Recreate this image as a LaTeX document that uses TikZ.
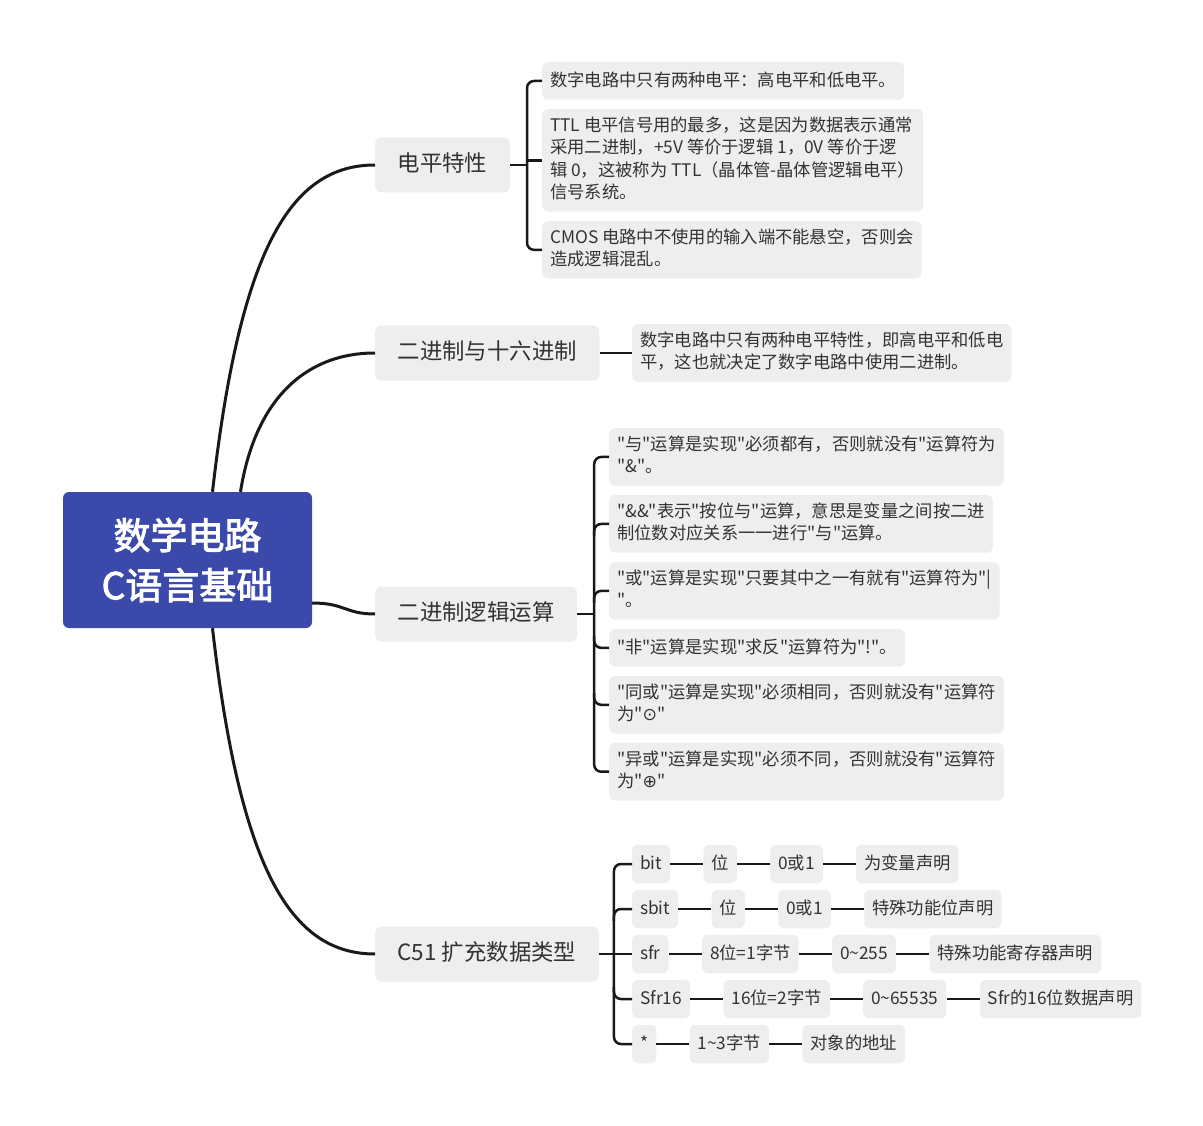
\documentclass[tikz,border=0pt]{standalone}
\usepackage{fontspec}
\setmainfont{Noto Sans CJK SC}[Ligatures=TeXOff]
\newfontfamily\rootfont{Noto Sans CJK SC}[FakeBold=2.5]
\newfontfamily\symfont{DejaVu Sans}
\newcommand\boxstrut{\rule[-0.24\baselineskip]{0pt}{\baselineskip}}
\usetikzlibrary{positioning}
\definecolor{rootblue}{RGB}{58,73,170}
\definecolor{boxgray}{RGB}{238,238,238}
\definecolor{linegray}{RGB}{25,25,25}
\definecolor{txtgray}{RGB}{51,51,51}

\begin{document}
\begin{tikzpicture}[
    x=1pt, y=-1pt,
    node distance=9pt and 33pt,
    rootbox/.style={rectangle, rounded corners=6pt, fill=rootblue, text=white, minimum width=249pt, minimum height=136pt, align=center, font=\fontsize{37}{50}\selectfont\rootfont},
    topicbox/.style={rectangle, rounded corners=6pt, fill=boxgray, text=txtgray, inner xsep=22.5pt, inner ysep=14.5pt, font=\fontsize{22.4}{26}\selectfont, execute at begin node=\boxstrut},
    leafbox/.style={rectangle, rounded corners=6pt, fill=boxgray, text=txtgray, inner xsep=8pt, inner ysep=7.5pt, align=left, font=\fontsize{17.3}{22.5}\selectfont, execute at begin node=\boxstrut, execute at end node=\boxstrut},
    cellbox/.style={leafbox, inner ysep=8pt},
    branch/.style={draw=linegray, line width=3pt},
    link/.style={draw=linegray, line width=2.5pt, rounded corners=7pt}
]
\useasboundingbox (0,0) rectangle (1203,1126);

% 中心主题
\node[rootbox] (root) at (187.5,560) {数学电路\\C语言基础};

% 分支主题
\node[topicbox, anchor=west] (d1) at (375,165) {电平特性};
\node[topicbox, anchor=west] (d2) at (375,353) {二进制与十六进制};
\node[topicbox, anchor=west] (d3) at (375,614) {二进制逻辑运算};
\node[topicbox, anchor=west] (d4) at (375,954) {C51 扩充数据类型};

% 电平特性
\node[leafbox, anchor=west] (p1) at (542,81) {数字电路中只有两种电平：高电平和低电平。};
\node[leafbox, below=of p1.south west, anchor=north west] (p2) {TTL 电平信号用的最多，这是因为数据表示通常\\采用二进制，+5V 等价于逻辑 1，0V 等价于逻\\辑 0，这被称为 TTL（晶体管-晶体管逻辑电平）\\信号系统。};
\node[leafbox, below=of p2.south west, anchor=north west] (p3) {CMOS 电路中不使用的输入端不能悬空，否则会\\造成逻辑混乱。};

% 二进制与十六进制
\node[leafbox, anchor=west] (s1) at (632,353) {数字电路中只有两种电平特性，即高电平和低电\\平，这也就决定了数字电路中使用二进制。};

% 二进制逻辑运算
\node[leafbox, anchor=north west] (q1) at (609,428) {"与"运算是实现"必须都有，否则就没有"运算符为\\"\&"。};
\node[leafbox, below=of q1.south west, anchor=north west] (q2) {"\&\&"表示"按位与"运算，意思是变量之间按二进\\制位数对应关系一一进行"与"运算。};
\node[leafbox, below=of q2.south west, anchor=north west] (q3) {"或"运算是实现"只要其中之一有就有"运算符为"\textbar\\"。};
\node[leafbox, below=of q3.south west, anchor=north west] (q4) {"非"运算是实现"求反"运算符为"!"。};
\node[leafbox, below=of q4.south west, anchor=north west] (q5) {"同或"运算是实现"必须相同，否则就没有"运算符\\为"{\symfont ⊙}"};
\node[leafbox, below=of q5.south west, anchor=north west] (q6) {"异或"运算是实现"必须不同，否则就没有"运算符\\为"{\symfont ⊕}"};

% C51 扩充数据类型
\node[cellbox, anchor=west] (r1) at (632,864) {bit};
\node[cellbox, right=of r1] (r1a) {位};
\node[cellbox, right=of r1a] (r1b) {0或1};
\node[cellbox, right=of r1b] (r1c) {为变量声明};
\node[cellbox, anchor=west] (r2) at (632,909) {sbit};
\node[cellbox, right=of r2] (r2a) {位};
\node[cellbox, right=of r2a] (r2b) {0或1};
\node[cellbox, right=of r2b] (r2c) {特殊功能位声明};
\node[cellbox, anchor=west] (r3) at (632,954) {sfr};
\node[cellbox, right=of r3] (r3a) {8位=1字节};
\node[cellbox, right=of r3a] (r3b) {0\textasciitilde255};
\node[cellbox, right=of r3b] (r3c) {特殊功能寄存器声明};
\node[cellbox, anchor=west] (r4) at (632,999) {Sfr16};
\node[cellbox, right=of r4] (r4a) {16位=2字节};
\node[cellbox, right=of r4a] (r4b) {0\textasciitilde65535};
\node[cellbox, right=of r4b] (r4c) {Sfr的16位数据声明};
\node[cellbox, anchor=west] (r5) at (632,1044) {*};
\node[cellbox, right=of r5] (r5a) {1\textasciitilde3字节};
\node[cellbox, right=of r5a] (r5b) {对象的地址};

% 汇合点
\coordinate (j1) at ([xshift=17pt]d1.east);
\coordinate (j3) at ([xshift=17pt]d3.east);
\coordinate (j4) at ([xshift=15pt]d4.east);

% 中心到分支
\draw[branch] ([xshift=25pt]root.north) .. controls (240,250) and (290,165) .. (d1.west);
\draw[branch] ([xshift=53pt]root.north) .. controls (255,400) and (305,353) .. (d2.west);
\draw[branch] ([yshift=-43pt]root.east) .. controls (345,603) and (345,614) .. (d3.west);
\draw[branch] ([xshift=25pt]root.south) .. controls (240,868) and (290,954) .. (d4.west);

% 分支到子主题
\draw[link] (d1) -- (j1);
\draw[link] (p1.west) -| (j1) |- (p3.west);
\draw[link] (p2.west) -- (p2.west -| j1);

\draw[link] (d2) -- (s1);

\draw[link] (d3) -- (j3);
\draw[link] (q1.west) -| (j3) |- (q6.west);
\foreach \n in {q2,q3}
  \draw[link] (\n.west -| j3) ++(0,12) |- (\n.west);
\foreach \n in {q4,q5}
  \draw[link] (\n.west -| j3) ++(0,-12) |- (\n.west);

\draw[link] (d4) -- (j4) -- (r3);
\draw[link] (r1.west) -| (j4) |- (r5.west);
\draw[link] (r2.west -| j4) ++(0,12) |- (r2.west);
\draw[link] (r4.west -| j4) ++(0,-12) |- (r4.west);

% 数据类型各列
\foreach \a/\b in {r1/r1a, r1a/r1b, r1b/r1c, r2/r2a, r2a/r2b, r2b/r2c,
                   r3/r3a, r3a/r3b, r3b/r3c, r4/r4a, r4a/r4b, r4b/r4c,
                   r5/r5a, r5a/r5b}
  \draw[link] (\a) -- (\b);

\end{tikzpicture}
\end{document}
